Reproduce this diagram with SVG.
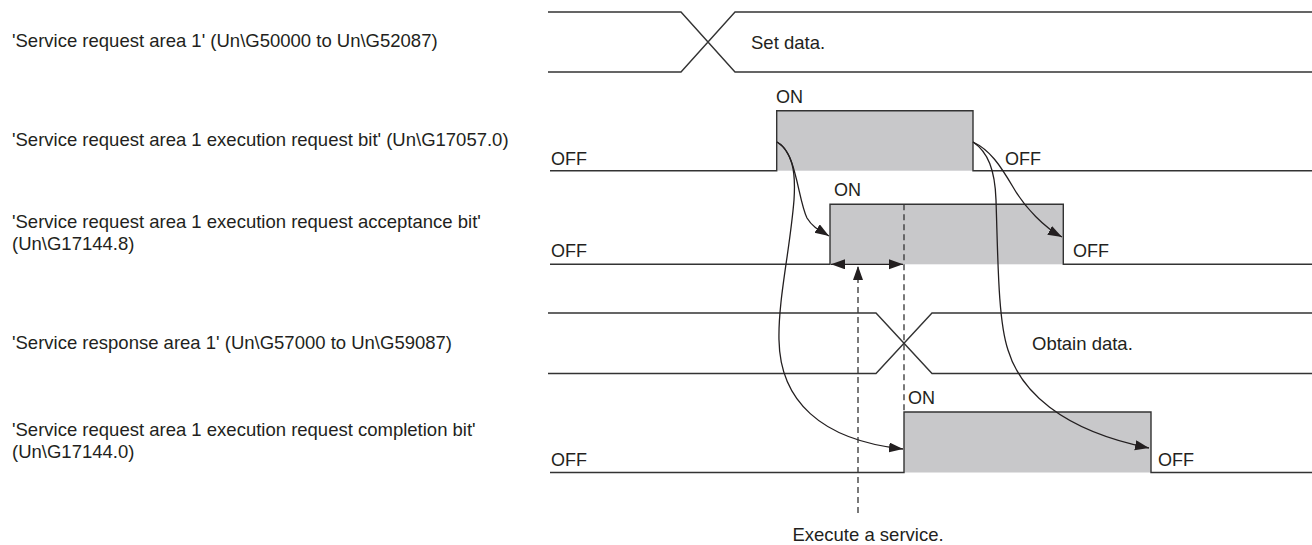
<svg xmlns="http://www.w3.org/2000/svg" width="1312" height="545" viewBox="0 0 1312 545">
<style>
text{font-family:"Liberation Sans",Arial,sans-serif;fill:#231f20;font-size:18.5px}
.st{font-size:18px}
.ln{fill:none;stroke:#333;stroke-width:1.4}
.pf{fill:#c8c8ca;stroke:none}
.cv{fill:none;stroke:#231f20;stroke-width:1.3}
.ds{fill:none;stroke:#333;stroke-width:1.3;stroke-dasharray:6 4}
</style>
<defs>
<marker id="ah" markerUnits="userSpaceOnUse" markerWidth="15" markerHeight="11" refX="14" refY="5" orient="auto-start-reverse" viewBox="0 0 15 11">
<path d="M0,0 L14,5 L0,10 z" fill="#231f20"/>
</marker>
</defs>
<g id="labels">
<text x="12" y="47">'Service request area 1' (Un\G50000 to Un\G52087)</text>
<text x="12" y="146">'Service request area 1 execution request bit' (Un\G17057.0)</text>
<text x="12" y="228">'Service request area 1 execution request acceptance bit'</text>
<text x="12" y="250">(Un\G17144.8)</text>
<text x="12" y="349">'Service response area 1' (Un\G57000 to Un\G59087)</text>
<text x="12" y="436">'Service request area 1 execution request completion bit'</text>
<text x="12" y="458">(Un\G17144.0)</text>
</g>
<g id="bus-request">
<path class="ln" d="M548,12 H681 L735,72 H1312 M548,72 H681 L735,12 H1312"/>
<text x="751" y="49">Set data.</text>
</g>
<g id="sig-exec-request">
<rect class="pf" x="776.7" y="110.7" width="196.3" height="60"/>
<path class="ln" d="M550,170.7 H776.7 V110.7 H973 V170.7 H1312"/>
<text class="st" x="776" y="103">ON</text>
<text class="st" x="551" y="165">OFF</text>
<text class="st" x="1005" y="165">OFF</text>
</g>
<g id="sig-accept">
<rect class="pf" x="830" y="204.3" width="233.3" height="60"/>
<path class="ln" d="M550,264.3 H830 V204.3 H1063.3 V264.3 H1312"/>
<text class="st" x="834" y="196">ON</text>
<text class="st" x="551" y="257">OFF</text>
<text class="st" x="1073" y="257">OFF</text>
</g>
<g id="bus-response">
<path class="ln" d="M548,313 H876 L932,373.5 H1312 M548,373.5 H876 L932,313 H1312"/>
<text x="1032" y="350">Obtain data.</text>
</g>
<g id="sig-complete">
<rect class="pf" x="904" y="412" width="247" height="60.5"/>
<path class="ln" d="M550,472.5 H904 V412 H1151 V472.5 H1312"/>
<text class="st" x="908" y="404">ON</text>
<text class="st" x="551" y="466">OFF</text>
<text class="st" x="1158" y="466">OFF</text>
</g>
<g id="connectors">
<path class="cv" marker-end="url(#ah)" d="M777,142 C796,150 798,200 807,218 C813,228 821,231 829,236"/>
<path class="cv" marker-end="url(#ah)" d="M777,142 C792,152 796,170 794,200 C790,250 778,300 779,340 C780,400 820,440 903,449"/>
<path class="cv" marker-end="url(#ah)" d="M973,142 C990,150 1000,165 1013,187 C1025,208 1045,228 1062,237"/>
<path class="cv" marker-end="url(#ah)" d="M973,142 C988,152 995,170 996,200 C998,260 998,320 1008,350 C1020,390 1060,430 1149,448"/>
<path class="ds" d="M904,204.3 V412"/>
<path class="cv" marker-start="url(#ah)" marker-end="url(#ah)" d="M831,264.3 H903"/>
<path class="ds" marker-end="url(#ah)" d="M858,513 V266"/>
</g>
<g id="note">
<text x="868" y="541" text-anchor="middle">Execute a service.</text>
</g>
</svg>
